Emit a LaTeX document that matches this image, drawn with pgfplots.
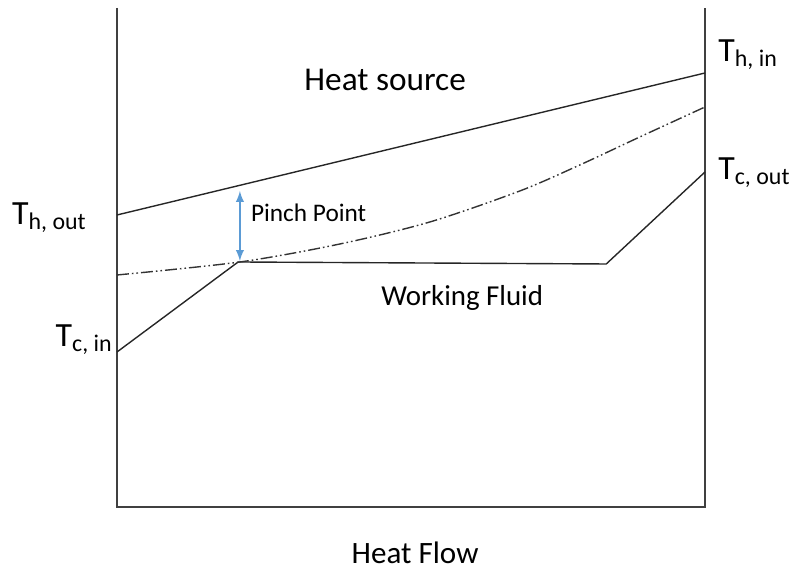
\documentclass[border=0pt]{standalone}
\usepackage{pgfplots}
\pgfplotsset{compat=1.18}
\usepackage{fontspec}
\setmainfont{Carlito}
\definecolor{pinchblue}{RGB}{91,155,213}
\newcommand{\Tlab}[1]{{\fontsize{17}{20}\selectfont T}\raisebox{-0.45ex}{\fontsize{12}{14}\selectfont #1}}

\begin{document}
\begin{tikzpicture}[x=0.5bp,y=0.5bp]
\path[use as bounding box] (-117,-64) rectangle (672,507);
\begin{axis}[
    at={(0,0)}, anchor=origin,
    scale only axis,
    width=294bp, height=249.5bp,
    xmin=0, xmax=100, ymin=0, ymax=499,
    hide axis,
    clip=false,
]
% frame: left, bottom, right (no top)
\draw[black!75, line width=0.8pt] (axis cs:0,499) -- (axis cs:0,0) -- (axis cs:100,0) -- (axis cs:100,499);

% heat source
\addplot[black!85, line width=0.7pt] coordinates {(0,292) (100,434)};

% working fluid
\addplot[black!85, line width=0.7pt] coordinates {(0,155) (20.6,245) (83.2,243) (100,335)};

% dash-dot curve
\addplot[black!80, line width=0.7pt, smooth, tension=0.5, dash pattern=on 6pt off 1.5pt on 0.8pt off 1.5pt on 0.8pt off 1.5pt]
  coordinates {(0,232) (20.9,245) (37.9,263) (53.2,285) (68.5,316) (78.7,342) (88.9,370) (100,400)};

% pinch point arrow
\draw[pinchblue, line width=0.9pt, latex-latex] (axis cs:20.9,316) -- (axis cs:20.9,246);

\node[font=\fontsize{16.7}{20}\selectfont] at (axis cs:45.6,427) {Heat source};
\node[anchor=west, font=\fontsize{12.7}{15}\selectfont] at (axis cs:21.6,294) {Pinch Point};
\node[font=\fontsize{14.5}{17}\selectfont] at (axis cs:58.7,209) {Working Fluid};
\node[font=\fontsize{15.6}{18}\selectfont] at (axis cs:50.7,-46) {Heat Flow};

\node[anchor=base west, inner sep=0pt] at (axis cs:102.2,445) {\Tlab{h, in}};
\node[anchor=base west, inner sep=0pt] at (axis cs:102.2,327) {\Tlab{c, out}};
\node[anchor=base west, inner sep=0pt] at (axis cs:-17.9,282) {\Tlab{h, out}};
\node[anchor=base west, inner sep=0pt] at (axis cs:-10.5,160) {\Tlab{c, in}};
\end{axis}
\end{tikzpicture}
\end{document}
